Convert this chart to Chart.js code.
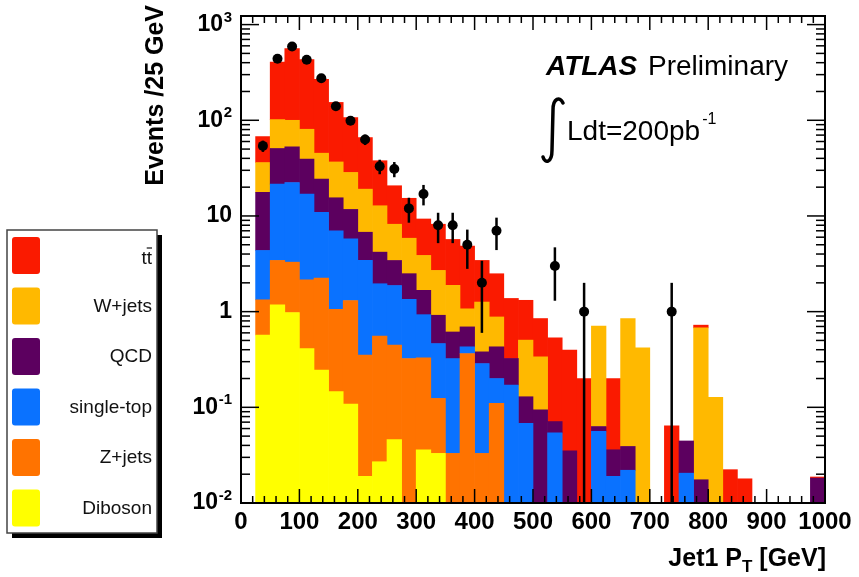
<!DOCTYPE html>
<html lang="en">
<head>
<meta charset="UTF-8">
<title>Jet1 pT - stacked backgrounds vs data</title>
<style>
    html, body {
        margin: 0;
        padding: 0;
        background: #ffffff;
    }
    #wrap {
        width: 859px;
        height: 577px;
    }
</style>
</head>
<body>

<div id="wrap"><canvas id="ptChart" width="859" height="577"></canvas></div>

<script src="https://cdn.jsdelivr.net/npm/chart.js"></script>
<script>
    const FONT = '"Liberation Sans", Arial, Helvetica, sans-serif';

    // 25 GeV bins from 0 to 1000 GeV (bin centres)
    const binCenters = [12.5, 37.5, 62.5, 87.5, 112.5, 137.5, 162.5, 187.5, 212.5, 237.5,
                        262.5, 287.5, 312.5, 337.5, 362.5, 387.5, 412.5, 437.5, 462.5, 487.5,
                        512.5, 537.5, 562.5, 587.5, 612.5, 637.5, 662.5, 687.5, 712.5, 737.5,
                        762.5, 787.5, 812.5, 837.5, 862.5, 887.5, 912.5, 937.5, 962.5, 987.5];

    // expected events per bin for each sample
    const diboson   = [0, 0.57, 1.18, 0.98, 0.41, 0.245, 0.146, 0.108, 0.019, 0.027,
                       0.046, 0, 0.036, 0.033, 0, 0, 0, 0, 0, 0,
                       0, 0, 0, 0, 0, 0, 0, 0, 0, 0,
                       0, 0, 0, 0, 0, 0, 0, 0, 0, 0];
    const zjets     = [0, 0.76, 2.25, 2.31, 1.74, 2.0, 0.91, 1.2, 0.333, 0.53,
                       0.40, 0.324, 0.294, 0.091, 0.033, 0.365, 0.033, 0.11, 0, 0,
                       0, 0, 0, 0, 0, 0, 0, 0, 0, 0,
                       0, 0, 0, 0, 0, 0, 0, 0, 0, 0];
    const singleTop = [0, 3.03, 18.1, 19.1, 14.75, 8.66, 5.94, 4.45, 3.08, 1.40,
                       1.43, 1.02, 0.60, 0.34, 0.29, 0.064, 0.254, 0.09, 0.171, 0.068,
                       0, 0.054, 0, 0, 0.056, 0.019, 0.022, 0, 0, 0,
                       0.0205, 0, 0, 0, 0, 0, 0, 0, 0, 0];
    const qcd       = [0, 13.3, 29.2, 30.4, 22.4, 13.4, 8.5, 5.95, 3.33, 2.23,
                       1.55, 1.15, 0.74, 0.453, 0.29, 0.264, 0.093, 0.229, 0.153, 0.061,
                       0.094, 0.017, 0.035, 0, 0.007, 0.017, 0.017, 0, 0, 0,
                       0.024, 0.0175, 0, 0, 0, 0, 0, 0, 0, 0.0182];
    const wjets     = [0, 18.5, 51, 47.2, 41.3, 21, 21.2, 16.8, 12.3, 8.6,
                       4.77, 3.36, 2.2, 1.78, 1.27, 0.377, 0.88, 0.451, 0, 0.375,
                       0.243, 0, 0, 0, 0.642, 0, 0.806, 0.419, 0, 0,
                       0, 0.66, 0.127, 0, 0, 0, 0, 0, 0, 0];
    const ttbar     = [0, 31.4, 304, 462, 351, 222, 117, 78.5, 46.9, 25,
                       12.5, 9.45, 5.43, 5.5, 3.8, 3.78, 2.17, 1.61, 1.05, 0.81,
                       0.51, 0.461, 0.362, 0.2, 0, 0.164, 0, 0, 0, 0.064,
                       0, 0.045, 0, 0.0223, 0.0179, 0, 0, 0, 0, 0.0005];

    // observed events and their errors (null = empty bin)
    const dataCounts = [null, 54, 440, 590, 430, 275, 140, 99, 63, 33,
                        31, 12, 17, 8, 8, 5, 2, 7, null, null,
                        null, 3, null, 1, null, null, null, null, null, 1,
                        null, null, null, null, null, null, null, null, null, null];
    const dataErrors = [null, 7.3, 21, 24.3, 20.7, 16.6, 11.8, 9.9, 7.9, 5.7,
                        5.6, 3.5, 4.1, 2.8, 2.8, 2.2, 1.4, 2.6, null, null,
                        null, 1.7, null, 1, null, null, null, null, null, 1,
                        null, null, null, null, null, null, null, null, null, null];

    // stack order, bottom to top
    const sampleNames  = ['Diboson', 'Z+jets', 'single-top', 'QCD', 'W+jets', 'tt\u0304'];
    const sampleColors = ['#ffff00', '#ff7300', '#0a72ff', '#5c005f', '#ffb900', '#fa1a00'];
    const stackSeries  = [diboson, zjets, singleTop, qcd, wjets, ttbar];

    // y axis labels as base + exponent
    const yTickValues = [0.01, 0.1, 1, 10, 100, 1000];
    const yTickBase   = ['10', '10', '1', '10', '10', '10'];
    const yTickExp    = ['-2', '-1', '', '', '2', '3'];

    const barSets = stackSeries.map((vals, k) => ({
        type: 'bar',
        label: sampleNames[k],
        data: binCenters.map((x, i) => ({ x: x, y: vals[i] > 0 ? vals[i] : null })),
        backgroundColor: sampleColors[k],
        borderWidth: 0,
        barPercentage: 1,
        categoryPercentage: 1,
        stack: 'mc',
        clip: 0
    }));

    const dataSet = {
        type: 'scatter',
        label: 'Data',
        data: binCenters
            .map((x, i) => ({ x: x, y: dataCounts[i], err: dataErrors[i] }))
            .filter(p => p.y !== null),
        showErrors: true,
        pointRadius: 5,
        pointBackgroundColor: '#000',
        pointBorderWidth: 0,
        stack: 'obs',
        clip: 0
    };

    // vertical error bars drawn just before the data markers
    const errorBars = {
        id: 'errorBars',
        beforeDatasetDraw(chart, args) {
            const ds = chart.data.datasets[args.index];
            if (!ds.showErrors) return;
            const { ctx, chartArea: a, scales: { y } } = chart;
            ctx.save();
            ctx.beginPath();
            ctx.rect(a.left, a.top, a.right - a.left, a.bottom - a.top);
            ctx.clip();
            ctx.strokeStyle = '#000';
            ctx.lineWidth = 2.5;
            args.meta.data.forEach((pt, i) => {
                const p = ds.data[i];
                const lo = p.y - p.err;
                const yLo = lo > y.min ? y.getPixelForValue(lo) : a.bottom;
                const yHi = y.getPixelForValue(p.y + p.err);
                ctx.beginPath();
                ctx.moveTo(pt.x, yLo);
                ctx.lineTo(pt.x, yHi);
                ctx.stroke();
            });
            ctx.restore();
        }
    };

    // frame with inward ticks on all four sides
    const frameTicks = {
        id: 'frameTicks',
        afterDatasetsDraw(chart) {
            const { ctx, chartArea: a, scales: { x, y } } = chart;
            const seg = (x1, y1, x2, y2) => {
                ctx.beginPath();
                ctx.moveTo(x1, y1);
                ctx.lineTo(x2, y2);
                ctx.stroke();
            };
            ctx.save();
            ctx.strokeStyle = '#000';
            ctx.lineWidth = 1.5;
            for (let v = 0; v <= 1000; v += 20) {
                const px = x.getPixelForValue(v);
                const len = v % 100 === 0 ? 14 : 7;
                seg(px, a.bottom, px, a.bottom - len);
                seg(px, a.top, px, a.top + len);
            }
            for (let e = -2; e <= 3; e++) {
                for (let m = 1; m <= 9; m++) {
                    const v = m * Math.pow(10, e);
                    if (v > y.max) break;
                    const py = y.getPixelForValue(v);
                    const len = m === 1 ? 18 : 9;
                    seg(a.left, py, a.left + len, py);
                    seg(a.right, py, a.right - len, py);
                }
            }
            ctx.lineWidth = 2;
            ctx.strokeRect(a.left, a.top, a.right - a.left, a.bottom - a.top);
            ctx.restore();
        }
    };

    // y tick labels with superscript exponents
    const logLabels = {
        id: 'logLabels',
        afterDraw(chart) {
            const { ctx, chartArea: a, scales: { y } } = chart;
            const right = a.left - 9;
            ctx.save();
            ctx.fillStyle = '#000';
            ctx.textBaseline = 'middle';
            ctx.textAlign = 'right';
            yTickValues.forEach((v, i) => {
                const py = y.getPixelForValue(v);
                let end = right;
                if (yTickExp[i]) {
                    ctx.font = 'bold 15px ' + FONT;
                    ctx.fillText(yTickExp[i], end, py - 7);
                    end -= ctx.measureText(yTickExp[i]).width + 0.5;
                }
                ctx.font = 'bold 23px ' + FONT;
                ctx.fillText(yTickBase[i], end, py);
            });
            ctx.restore();
        }
    };

    // legend box on the left with drop shadow
    const sideLegend = {
        id: 'sideLegend',
        afterDraw(chart) {
            const { ctx } = chart;
            const bx = 7, by = 230, bw = 150, bh = 303;
            ctx.save();
            ctx.fillStyle = '#000';
            ctx.fillRect(bx + 5, by + 5, bw, bh);
            ctx.fillStyle = '#fff';
            ctx.fillRect(bx, by, bw, bh);
            ctx.strokeStyle = '#444';
            ctx.lineWidth = 1.5;
            ctx.strokeRect(bx, by, bw, bh);

            const entries = chart.data.datasets.filter(d => d.stack === 'mc').slice().reverse();
            entries.forEach((ds, i) => {
                const top = by + 7 + i * 50.5;
                ctx.fillStyle = ds.backgroundColor;
                ctx.beginPath();
                ctx.roundRect(bx + 5, top, 28, 37, 3);
                ctx.fill();

                const cy = top + 19;
                const tx = bx + 145;
                ctx.fillStyle = '#111';
                ctx.font = '19px ' + FONT;
                ctx.textAlign = 'right';
                ctx.textBaseline = 'middle';
                if (ds.label === sampleNames[5]) {
                    ctx.fillText('tt', tx, cy + 3);
                    const tw = ctx.measureText('t').width;
                    ctx.strokeStyle = '#111';
                    ctx.lineWidth = 1.2;
                    ctx.beginPath();
                    ctx.moveTo(tx - tw, cy - 8);
                    ctx.lineTo(tx, cy - 8);
                    ctx.stroke();
                } else {
                    ctx.fillText(ds.label, tx, cy);
                }
            });
            ctx.restore();
        }
    };

    // experiment label, luminosity and axis titles
    const annotations = {
        id: 'annotations',
        afterDraw(chart) {
            const { ctx, chartArea: a } = chart;
            ctx.save();
            ctx.fillStyle = '#000';
            ctx.textBaseline = 'alphabetic';
            ctx.textAlign = 'left';

            ctx.font = 'italic bold 28px ' + FONT;
            ctx.fillText('ATLAS', 546, 75);
            ctx.font = '28px ' + FONT;
            ctx.fillText('Preliminary', 648, 75);

            // integral sign
            ctx.strokeStyle = '#000';
            ctx.lineWidth = 3.5;
            ctx.lineCap = 'round';
            ctx.beginPath();
            ctx.moveTo(563, 103);
            ctx.bezierCurveTo(560, 96, 553, 98, 553, 110);
            ctx.lineTo(552, 150);
            ctx.bezierCurveTo(552, 163, 545, 164, 543, 157);
            ctx.stroke();

            ctx.font = '28px ' + FONT;
            ctx.fillText('Ldt=200pb', 567, 140);
            const lw = ctx.measureText('Ldt=200pb').width;
            ctx.font = '16px ' + FONT;
            ctx.fillText('-1', 567 + lw + 2, 124);

            // x title, right aligned at the frame edge
            const xt = a.right + 1, yb = 566;
            ctx.font = 'bold 25px ' + FONT;
            const tail = ' [GeV]';
            const wTail = ctx.measureText(tail).width;
            ctx.fillText(tail, xt - wTail, yb);
            ctx.font = 'bold 17px ' + FONT;
            const wSub = ctx.measureText('T').width;
            ctx.fillText('T', xt - wTail - wSub, yb + 6);
            ctx.font = 'bold 25px ' + FONT;
            const head = 'Jet1 P';
            const wHead = ctx.measureText(head).width;
            ctx.fillText(head, xt - wTail - wSub - wHead, yb);

            // y title, rotated, flush with the top of the pad
            ctx.translate(163, 5);
            ctx.rotate(-Math.PI / 2);
            ctx.textAlign = 'right';
            ctx.font = 'bold 25px ' + FONT;
            ctx.fillText('Events /25 GeV', 0, 0);
            ctx.restore();
        }
    };

    const ctx = document.getElementById('ptChart').getContext('2d');
    new Chart(ctx, {
        type: 'bar',
        data: {
            datasets: [dataSet, ...barSets]
        },
        options: {
            responsive: false,
            animation: false,
            events: [],
            layout: {
                padding: { top: 16, right: 34, left: 0, bottom: 0 }
            },
            plugins: {
                legend: { display: false },
                tooltip: { enabled: false }
            },
            scales: {
                x: {
                    type: 'linear',
                    min: 0,
                    max: 1000,
                    offset: false,
                    stacked: true,
                    grid: { display: false, drawTicks: false },
                    border: { display: false },
                    ticks: {
                        stepSize: 100,
                        autoSkip: false,
                        maxRotation: 0,
                        padding: 5,
                        color: '#000',
                        font: { family: FONT, size: 24, weight: 'bold' },
                        callback: value => String(value)
                    },
                    afterFit(scale) { scale.height = 74; }
                },
                y: {
                    type: 'logarithmic',
                    min: 0.01,
                    max: 1230,
                    stacked: true,
                    grid: { display: false, drawTicks: false },
                    border: { display: false },
                    ticks: { display: false },
                    afterFit(scale) { scale.width = 241; }
                }
            }
        },
        plugins: [errorBars, frameTicks, logLabels, sideLegend, annotations]
    });
</script>

</body>
</html>
